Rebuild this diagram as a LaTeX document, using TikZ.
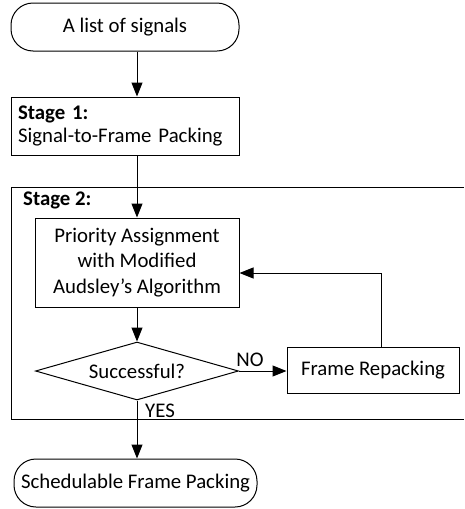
\documentclass[tikz,border=0pt]{standalone}
\usepackage{fontspec}
\setmainfont{Carlito}
\usetikzlibrary{arrows.meta,shapes.geometric}
\begin{document}
\begin{tikzpicture}[x=1pt,y=-1pt,
  font=\fontsize{20.8}{25.4}\selectfont,
  box/.style={draw, line width=1pt, inner sep=0pt},
  term/.style={box, rounded corners=22pt},
  arr/.style={draw, line width=1pt, -{Triangle[length=14pt,width=11pt]}},
  lbl/.style={inner sep=0pt}]
\useasboundingbox (0,0) rectangle (464,509);
% column of the main flow
\coordinate (ax) at (137,0);
\coordinate (fb) at (381,273);
% nodes
\node[term, minimum width=228, minimum height=48] (start) at (125,27) {A list of signals};
\node[box, minimum width=228, minimum height=58, text width=214, align=left,
      font=\fontsize{20.8}{22.5}\selectfont] (s1) at (125,126)
      {\textbf{Stage 1:}\\Signal-to-Frame Packing};
\draw[line width=1pt] (464,187) -| (11,419) -- (464,419);
\node[lbl, anchor=west] (s2lbl) at (23,200) {\textbf{Stage 2:}};
\node[box, minimum width=204, minimum height=89, align=center] (prio) at (137,262.5)
      {Priority Assignment\\with Modified\\Audsley’s Algorithm};
\node[box, diamond, aspect=3.5, minimum width=203, minimum height=58] (dec) at (137,371) {Successful?};
\node[box, minimum width=172, minimum height=46] (rep) at (373,370) {Frame Repacking};
\node[term, minimum width=243, minimum height=48] (end) at (135.5,483) {Schedulable Frame Packing};
\node[lbl] (no) at (250,360) {NO};
\node[lbl] (yes) at (160,411) {YES};
% connectors
\draw[arr] (start.south -| ax) -- (s1.north -| ax);
\draw[arr] (s1.south -| ax) -- (prio.north -| ax);
\draw[arr] (prio.south -| ax) -- (dec.north);
\draw[arr] (dec.east) -- (dec.east -| rep.west);
\draw[arr] (rep.north -| fb) -- (fb) -- (fb -| prio.east);
\draw[arr] (dec.south) -- (end.north -| ax);
\end{tikzpicture}
\end{document}
